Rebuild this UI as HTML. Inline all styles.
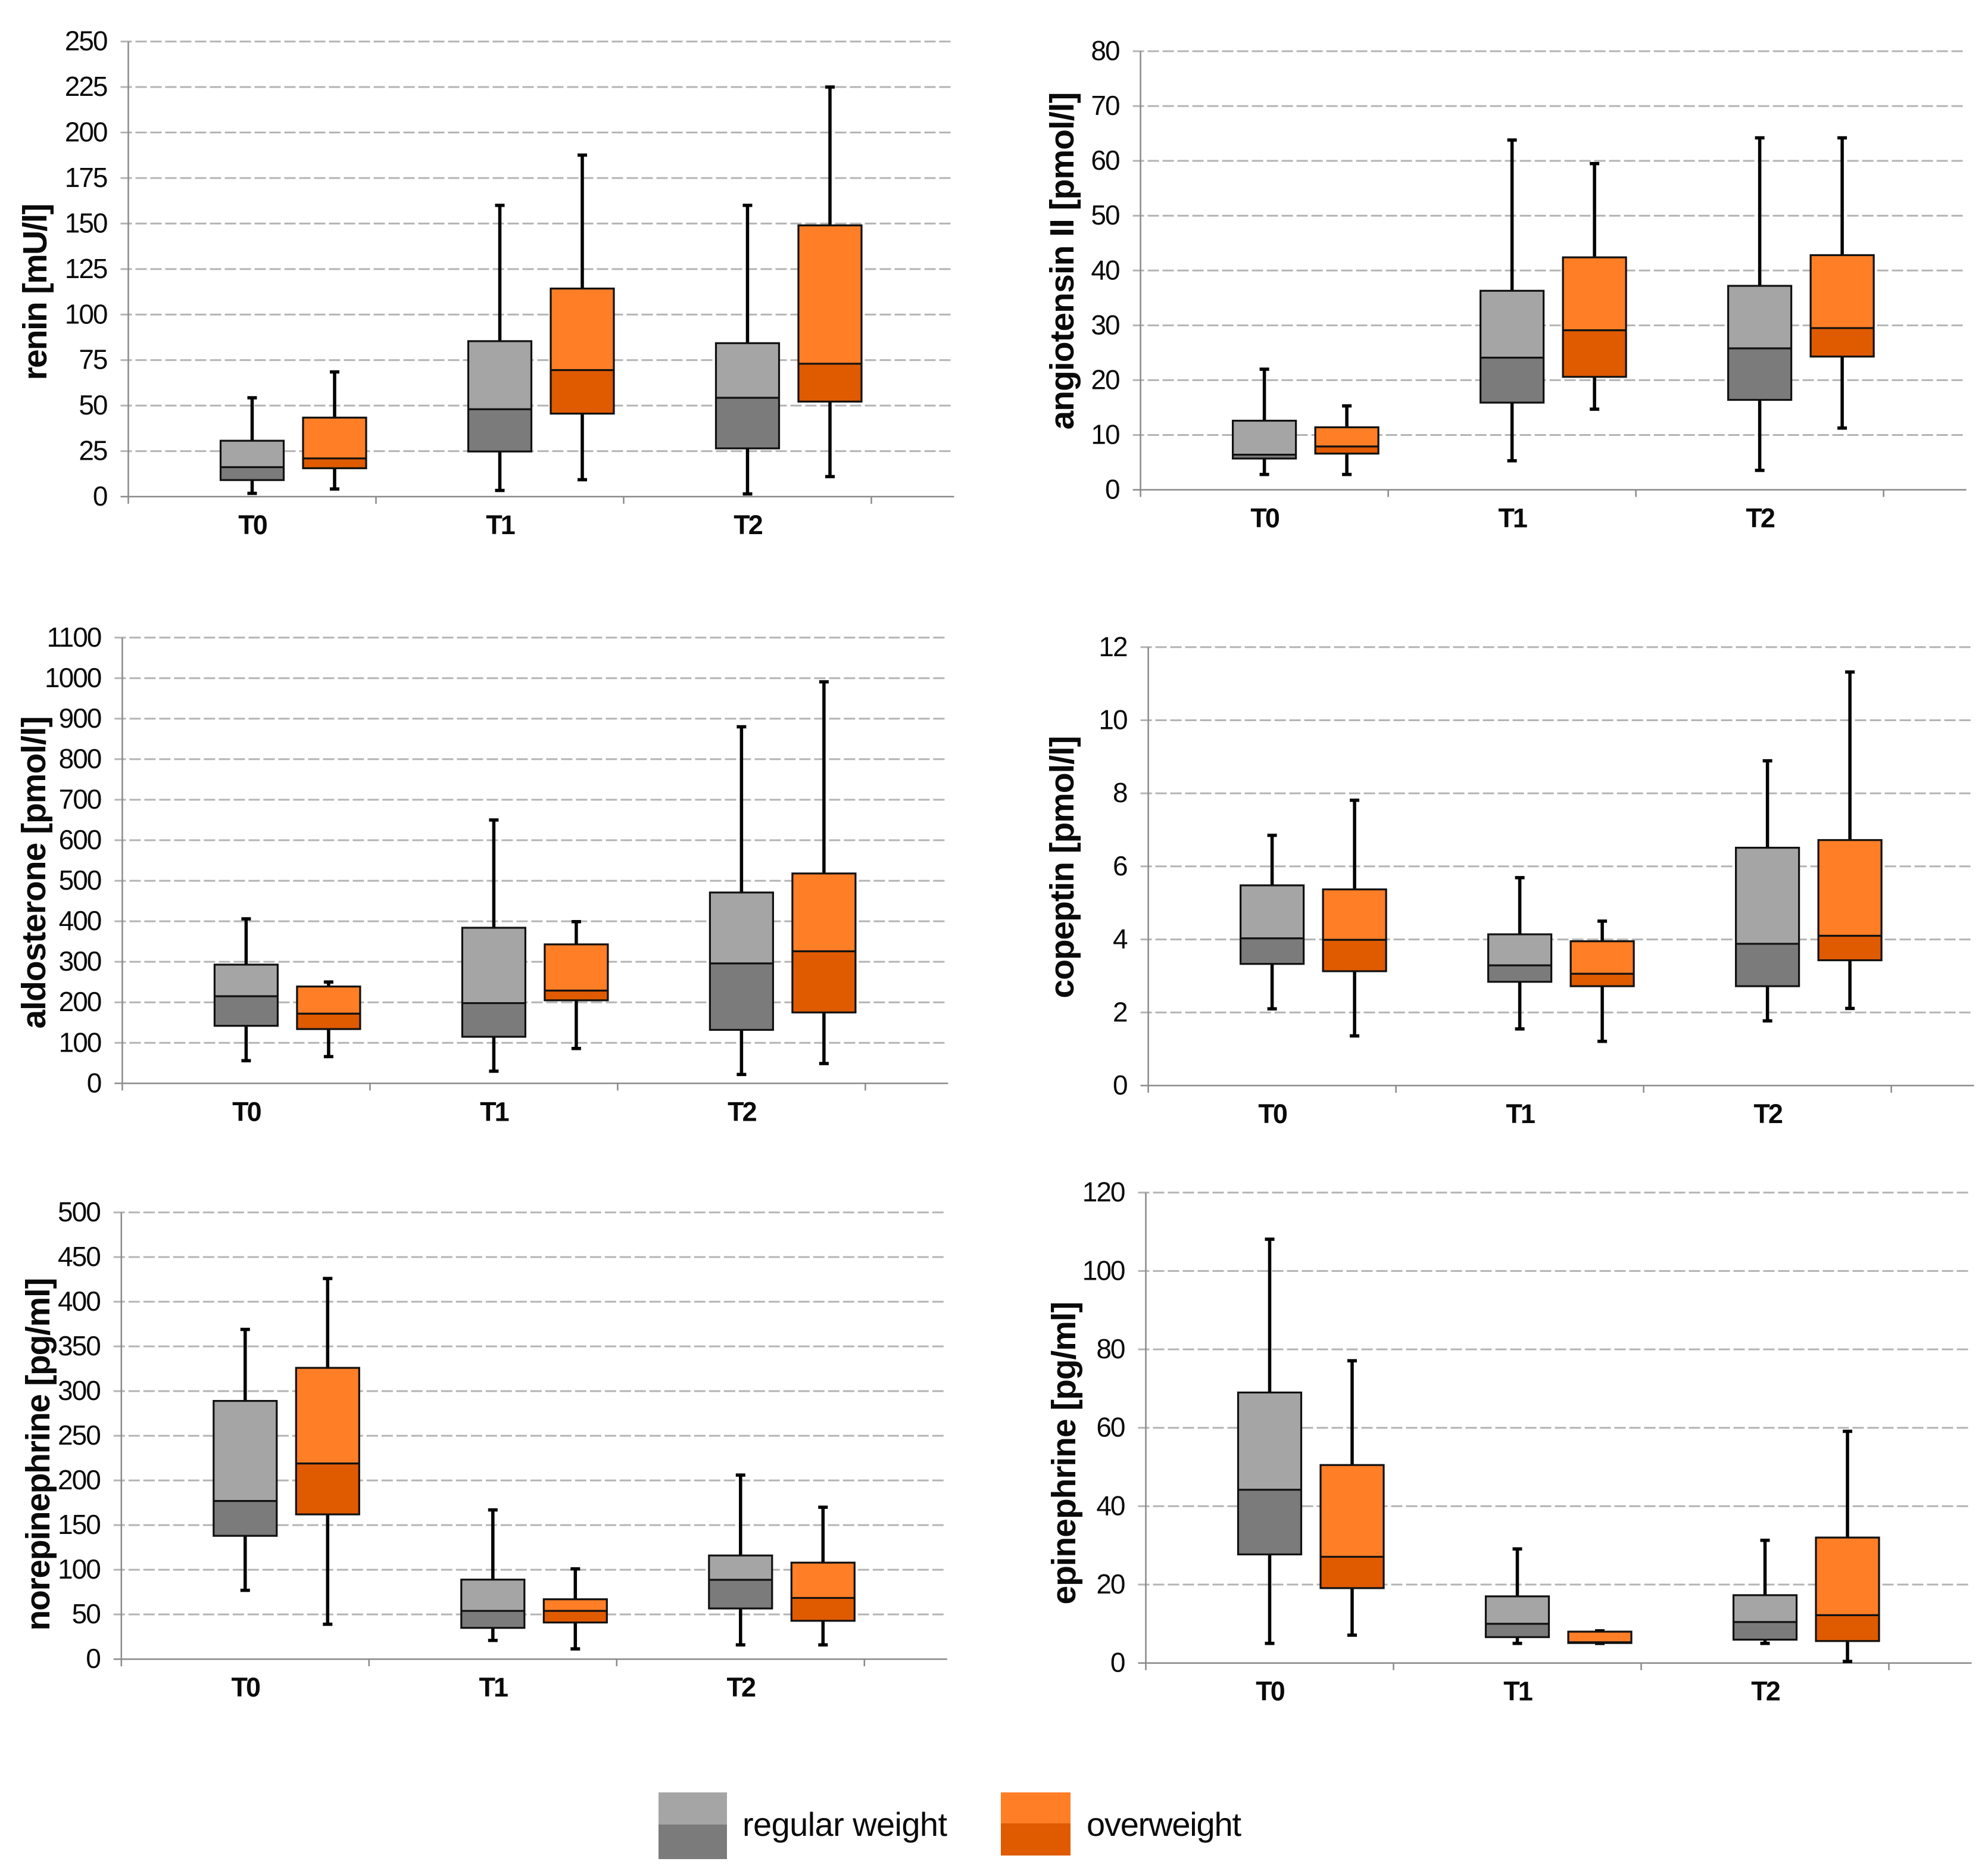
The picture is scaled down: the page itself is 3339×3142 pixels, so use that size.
<!DOCTYPE html>
<html lang="en">
<head>
<meta charset="utf-8">
<title>Hormone levels by weight group</title>
<style>
  html, body { margin: 0; padding: 0; background: #ffffff; }
  #figure { display: block; }
  text { font-family: "Liberation Sans", sans-serif; fill: #0a0a0a; }
  .axis-title { font-size: 57px; font-weight: 700; }
  .legend-label { font-size: 56px; }
</style>
</head>
<body>
<svg id="figure" xmlns="http://www.w3.org/2000/svg" width="3339" height="3142" viewBox="0 0 3339 3142">
  <rect x="0" y="0" width="3339" height="3142" fill="#ffffff"/>

  <text class="axis-title" transform="translate(78,490) rotate(-90)" text-anchor="middle" textLength="297" lengthAdjust="spacing">renin [mU/l]</text>
  <text class="axis-title" transform="translate(1803,438) rotate(-90)" text-anchor="middle" textLength="567" lengthAdjust="spacing">angiotensin II [pmol/l]</text>
  <text class="axis-title" transform="translate(76,1465) rotate(-90)" text-anchor="middle" textLength="525" lengthAdjust="spacing">aldosterone [pmol/l]</text>
  <text class="axis-title" transform="translate(1803,1456) rotate(-90)" text-anchor="middle" textLength="441" lengthAdjust="spacing">copeptin [pmol/l]</text>
  <text class="axis-title" transform="translate(83,2442) rotate(-90)" text-anchor="middle" textLength="593" lengthAdjust="spacing">norepinephrine [pg/ml]</text>
  <text class="axis-title" transform="translate(1806,2440) rotate(-90)" text-anchor="middle" textLength="509" lengthAdjust="spacing">epinephrine [pg/ml]</text>

  <g>
    <g>
      <rect x="1106" y="3010" width="115" height="54" fill="#a5a5a5"/>
      <rect x="1106" y="3064" width="115" height="58" fill="#7b7b7b"/>
      <text class="legend-label" x="1247" y="3083" textLength="344" lengthAdjust="spacing">regular weight</text>
    </g>
    <g>
      <rect x="1681" y="3010" width="117" height="52" fill="#ff7e26"/>
      <rect x="1681" y="3062" width="117" height="54" fill="#e05a00"/>
      <text class="legend-label" x="1825" y="3083" textLength="260" lengthAdjust="spacing">overweight</text>
    </g>
  </g>
</svg>

<script>
// Shared category labels
const categories = ['T0', 'T1', 'T2'];

// Y-axis tick labels
const reninTicks = [0, 25, 50, 75, 100, 125, 150, 175, 200, 225, 250];
const angiotensinTicks = [0, 10, 20, 30, 40, 50, 60, 70, 80];
const aldosteroneTicks = [0, 100, 200, 300, 400, 500, 600, 700, 800, 900, 1000, 1100];
const copeptinTicks = [0, 2, 4, 6, 8, 10, 12];
const norepinephrineTicks = [0, 50, 100, 150, 200, 250, 300, 350, 400, 450, 500];
const epinephrineTicks = [0, 20, 40, 60, 80, 100, 120];

// Box values per category: [low whisker, lower quartile, median, upper quartile, high whisker]
const reninRegular = [[1.8, 9.1, 16.2, 30.7, 54.3], [3.4, 24.8, 48, 85.4, 160], [1.5, 26.5, 54.3, 84.3, 160]];
const reninOverweight = [[4.2, 15.6, 21, 43.4, 68.5], [9.3, 45.6, 69.5, 114.3, 187.6], [11, 52.2, 73, 149, 225]];

const angiotensinRegular = [[2.8, 5.7, 6.4, 12.6, 22], [5.3, 15.9, 24.1, 36.3, 63.8], [3.55, 16.4, 25.8, 37.2, 64.2]];
const angiotensinOverweight = [[2.8, 6.6, 7.9, 11.4, 15.3], [14.7, 20.6, 29.1, 42.4, 59.5], [11.25, 24.3, 29.5, 42.8, 64.2]];

const aldosteroneRegular = [[56, 142, 215, 293, 406], [30, 115, 198, 384, 650], [22, 132, 296, 471, 880]];
const aldosteroneOverweight = [[66, 134, 172, 239, 250], [86, 205, 229, 343, 399], [49, 175, 326, 518, 991]];

const copeptinRegular = [[2.1, 3.33, 4.03, 5.48, 6.85], [1.55, 2.84, 3.29, 4.14, 5.69], [1.77, 2.72, 3.88, 6.51, 8.89]];
const copeptinOverweight = [[1.36, 3.13, 3.99, 5.37, 7.81], [1.21, 2.72, 3.06, 3.95, 4.5], [2.11, 3.43, 4.1, 6.72, 11.32]];

const norepinephrineRegular = [[77, 138, 177, 289, 369], [21, 35, 54, 89, 167], [16, 56.7, 88.8, 116, 206]];
const norepinephrineOverweight = [[39, 162, 219, 326, 426], [11.5, 41, 54, 67, 101], [16, 42.9, 68.5, 108, 170]];

const epinephrineRegular = [[5, 27.7, 44.2, 69, 108.1], [5, 6.6, 10, 17, 29.1], [5, 5.95, 10.45, 17.3, 31.3]];
const epinephrineOverweight = [[7.1, 19.1, 27.1, 50.5, 77.1], [5, 5.1, 5.3, 8, 8.2], [0.4, 5.6, 12.2, 32, 59.1]];

// Panel frames (layout only; values come from the arrays above)
const panels = [
  { name: 'renin', left: 215.5, top: 69.7, bottom: 834, ticks: reninTicks, regular: reninRegular, overweight: reninOverweight },
  { name: 'angiotensin', left: 1915.6, top: 86, bottom: 822.5, ticks: angiotensinTicks, regular: angiotensinRegular, overweight: angiotensinOverweight },
  { name: 'aldosterone', left: 205.4, top: 1070.8, bottom: 1819.3, ticks: aldosteroneTicks, regular: aldosteroneRegular, overweight: aldosteroneOverweight },
  { name: 'copeptin', left: 1928.6, top: 1086.8, bottom: 1823, ticks: copeptinTicks, regular: copeptinRegular, overweight: copeptinOverweight },
  { name: 'norepinephrine', left: 203.8, top: 2036, bottom: 2786.2, ticks: norepinephrineTicks, regular: norepinephrineRegular, overweight: norepinephrineOverweight },
  { name: 'epinephrine', left: 1924.5, top: 2002.7, bottom: 2792.7, ticks: epinephrineTicks, regular: epinephrineRegular, overweight: epinephrineOverweight }
];

const categoryWidth = 416;
const plotWidth = 1387;
const boxWidth = 106;
const overweightOffset = 138.5;
const capWidth = 16;

const svgNS = 'http://www.w3.org/2000/svg';
const figure = document.getElementById('figure');

function make(tag, attrs, parent) {
  const node = document.createElementNS(svgNS, tag);
  Object.keys(attrs).forEach(function (key) { node.setAttribute(key, attrs[key]); });
  parent.appendChild(node);
  return node;
}

function drawBox(parent, label, x, stats, yScale, upperColor, lowerColor) {
  const low = stats[0], q1 = stats[1], median = stats[2], q3 = stats[3], high = stats[4];
  const left = x - boxWidth / 2;

  const group = make('g', {}, parent);
  
  

  const whisker = make('line', { x1: x, x2: x, y1: yScale(high), y2: yScale(low), stroke: '#000', 'stroke-width': 5.5 }, group);
  
  

  const capHigh = make('line', { x1: x - capWidth / 2, x2: x + capWidth / 2, y1: yScale(high), y2: yScale(high), stroke: '#000', 'stroke-width': 5.5 }, group);
  
  

  const capLow = make('line', { x1: x - capWidth / 2, x2: x + capWidth / 2, y1: yScale(low), y2: yScale(low), stroke: '#000', 'stroke-width': 5.5 }, group);
  
  

  const upper = make('rect', { x: left, y: yScale(q3), width: boxWidth, height: yScale(median) - yScale(q3), fill: upperColor }, group);
  
  

  const lower = make('rect', { x: left, y: yScale(median), width: boxWidth, height: yScale(q1) - yScale(median), fill: lowerColor }, group);
  
  

  const outline = make('rect', { x: left, y: yScale(q3), width: boxWidth, height: yScale(q1) - yScale(q3), fill: 'none', stroke: '#111', 'stroke-width': 3.2 }, group);
  
  

  const medianLine = make('line', { x1: left, x2: left + boxWidth, y1: yScale(median), y2: yScale(median), stroke: '#111', 'stroke-width': 3.2 }, group);
  
  
}

panels.forEach(function (panel) {
  const maxValue = panel.ticks[panel.ticks.length - 1];
  const yScale = function (value) {
    return panel.bottom - (value / maxValue) * (panel.bottom - panel.top);
  };
  const xScale = function (index) {
    return panel.left + categoryWidth * (index + 0.5);
  };

  const chart = make('g', {}, figure);
  
  

  panel.ticks.forEach(function (tick) {
    const y = yScale(tick);
    if (tick !== 0) {
      const grid = make('line', { x1: panel.left - 13, x2: panel.left + plotWidth - 6, y1: y, y2: y, stroke: '#b4b4b4', 'stroke-width': 3, 'stroke-dasharray': '19 6' }, chart);
      
      
    }
    const label = make('text', { x: panel.left - 36, y: y + 15, 'text-anchor': 'end', 'font-size': 46, 'letter-spacing': -2 }, chart);
    label.textContent = String(tick);
    
    
  });

  const yAxis = make('line', { x1: panel.left, x2: panel.left, y1: panel.top, y2: panel.bottom + 12, stroke: '#8a8a8a', 'stroke-width': 2.5 }, chart);
  
  

  const xAxis = make('line', { x1: panel.left - 13, x2: panel.left + plotWidth, y1: panel.bottom, y2: panel.bottom, stroke: '#8a8a8a', 'stroke-width': 2.5 }, chart);
  
  

  for (let i = 1; i <= categories.length; i++) {
    const tickX = panel.left + categoryWidth * i;
    const xTick = make('line', { x1: tickX, x2: tickX, y1: panel.bottom, y2: panel.bottom + 12, stroke: '#8a8a8a', 'stroke-width': 2.5 }, chart);
    
    
  }

  categories.forEach(function (category, index) {
    const center = xScale(index);

    const label = make('text', { x: center, y: panel.bottom + 63, 'text-anchor': 'middle', 'font-size': 45, 'font-weight': 700, 'letter-spacing': -3 }, chart);
    label.textContent = category;
    
    

    drawBox(chart, panel.name + '-' + category + '-regular-weight-box', center, panel.regular[index], yScale, '#a5a5a5', '#7b7b7b');
    drawBox(chart, panel.name + '-' + category + '-overweight-box', center + overweightOffset, panel.overweight[index], yScale, '#ff7e26', '#e05a00');
  });
});
</script>
</body>
</html>
